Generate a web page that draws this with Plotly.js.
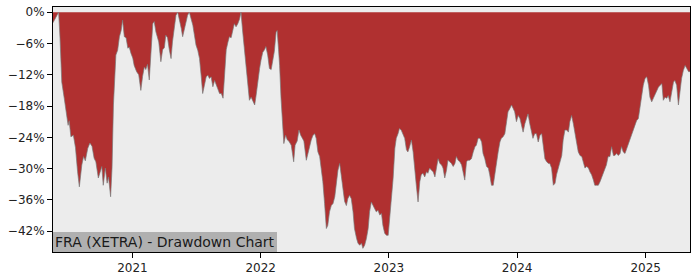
<!DOCTYPE html>
<html>
<head>
<meta charset="utf-8">
<script src="https://cdn.plot.ly/plotly-3.0.1.min.js"></script>
<style>html,body{margin:0;padding:0;background:#fff;}#chart{width:700px;height:280px;}</style>
</head>
<body>
<div id="chart"></div>
<script>
const dates = [
"2020-05-20","2020-05-24","2020-05-28","2020-06-02","2020-06-05","2020-06-09","2020-06-14","2020-06-21","2020-06-28","2020-07-02",
"2020-07-05","2020-07-10","2020-07-17","2020-07-23","2020-07-29","2020-08-03","2020-08-10","2020-08-15","2020-08-20","2020-08-27",
"2020-09-02","2020-09-08","2020-09-14","2020-09-19","2020-09-26","2020-10-02","2020-10-06","2020-10-10","2020-10-16","2020-10-21",
"2020-10-25","2020-10-31","2020-11-04","2020-11-08","2020-11-11","2020-11-15","2020-11-20","2020-11-25","2020-11-30","2020-12-04",
"2020-12-09","2020-12-14","2020-12-19","2020-12-23","2020-12-28","2021-01-02","2021-01-06","2021-01-13","2021-01-19","2021-01-25",
"2021-01-30","2021-02-04","2021-02-08","2021-02-13","2021-02-18","2021-02-23","2021-02-28","2021-03-04","2021-03-09","2021-03-17",
"2021-03-23","2021-03-28","2021-04-02","2021-04-06","2021-04-11","2021-04-16","2021-04-21","2021-04-25","2021-04-30","2021-05-05",
"2021-05-10","2021-05-15","2021-05-20","2021-05-24","2021-05-29","2021-06-03","2021-06-07","2021-06-12","2021-06-17","2021-06-22",
"2021-06-26","2021-07-01","2021-07-06","2021-07-11","2021-07-16","2021-07-20","2021-07-25","2021-07-30","2021-08-04","2021-08-08",
"2021-08-13","2021-08-18","2021-08-23","2021-08-27","2021-09-01","2021-09-06","2021-09-11","2021-09-16","2021-09-20","2021-09-25",
"2021-09-30","2021-10-04","2021-10-09","2021-10-14","2021-10-18","2021-10-23","2021-10-28","2021-11-02","2021-11-06","2021-11-11",
"2021-11-16","2021-11-21","2021-11-25","2021-11-30","2021-12-05","2021-12-10","2021-12-15","2021-12-19","2021-12-24","2021-12-29",
"2022-01-02","2022-01-07","2022-01-12","2022-01-16","2022-01-21","2022-01-26","2022-01-31","2022-02-05","2022-02-09","2022-02-14",
"2022-02-17","2022-02-21","2022-02-24","2022-02-28","2022-03-05","2022-03-08","2022-03-13","2022-03-18","2022-03-22","2022-03-29",
"2022-04-05","2022-04-09","2022-04-15","2022-04-20","2022-04-25","2022-04-29","2022-05-04","2022-05-11","2022-05-16","2022-05-20",
"2022-05-25","2022-05-30","2022-06-04","2022-06-08","2022-06-13","2022-06-18","2022-06-23","2022-06-27","2022-07-02","2022-07-07",
"2022-07-11","2022-07-16","2022-07-21","2022-07-26","2022-07-31","2022-08-04","2022-08-09","2022-08-14","2022-08-19","2022-08-23",
"2022-08-28","2022-09-02","2022-09-06","2022-09-11","2022-09-16","2022-09-21","2022-09-25","2022-10-01","2022-10-05","2022-10-10",
"2022-10-15","2022-10-19","2022-10-24","2022-10-29","2022-11-03","2022-11-07","2022-11-12","2022-11-17","2022-11-21","2022-11-26",
"2022-12-01","2022-12-06","2022-12-11","2022-12-15","2022-12-20","2022-12-25","2022-12-30","2023-01-03","2023-01-08","2023-01-13",
"2023-01-18","2023-01-22","2023-01-27","2023-01-31","2023-02-05","2023-02-10","2023-02-15","2023-02-20","2023-02-24","2023-03-01",
"2023-03-06","2023-03-11","2023-03-16","2023-03-20","2023-03-25","2023-03-30","2023-04-03","2023-04-08","2023-04-13","2023-04-18",
"2023-04-22","2023-04-27","2023-05-02","2023-05-07","2023-05-12","2023-05-16","2023-05-21","2023-05-26","2023-05-31","2023-06-04",
"2023-06-09","2023-06-14","2023-06-18","2023-06-23","2023-06-28","2023-07-03","2023-07-08","2023-07-12","2023-07-17","2023-07-22",
"2023-07-27","2023-07-31","2023-08-05","2023-08-10","2023-08-14","2023-08-19","2023-08-24","2023-08-29","2023-09-03","2023-09-07",
"2023-09-12","2023-09-17","2023-09-22","2023-09-26","2023-10-01","2023-10-06","2023-10-11","2023-10-15","2023-10-20","2023-10-25",
"2023-10-30","2023-11-03","2023-11-08","2023-11-13","2023-11-17","2023-11-22","2023-11-27","2023-12-02","2023-12-06","2023-12-11",
"2023-12-16","2023-12-21","2023-12-25","2023-12-30","2024-01-04","2024-01-09","2024-01-13","2024-01-18","2024-01-23","2024-01-28",
"2024-02-01","2024-02-06","2024-02-11","2024-02-15","2024-02-20","2024-02-25","2024-03-01","2024-03-06","2024-03-11","2024-03-15",
"2024-03-20","2024-03-25","2024-03-30","2024-04-03","2024-04-08","2024-04-13","2024-04-18","2024-04-22","2024-04-27","2024-05-02",
"2024-05-07","2024-05-11","2024-05-16","2024-05-21","2024-05-26","2024-05-30","2024-06-04","2024-06-09","2024-06-13","2024-06-18",
"2024-06-23","2024-06-28","2024-07-03","2024-07-07","2024-07-12","2024-07-17","2024-07-22","2024-07-26","2024-07-31","2024-08-05",
"2024-08-09","2024-08-14","2024-08-19","2024-08-24","2024-08-28","2024-09-02","2024-09-07","2024-09-11","2024-09-16","2024-09-21",
"2024-09-26","2024-10-01","2024-10-05","2024-10-10","2024-10-15","2024-10-20","2024-10-24","2024-10-29","2024-11-03","2024-11-08",
"2024-11-12","2024-11-17","2024-11-22","2024-11-27","2024-12-02","2024-12-06","2024-12-11","2024-12-16","2024-12-21","2024-12-25",
"2024-12-30","2025-01-04","2025-01-09","2025-01-13","2025-01-18","2025-01-23","2025-01-28","2025-02-01","2025-02-06","2025-02-11",
"2025-02-16","2025-02-20","2025-02-25","2025-03-02","2025-03-06","2025-03-11","2025-03-16","2025-03-21","2025-03-25","2025-03-30",
"2025-04-04","2025-04-09","2025-04-13","2025-04-18","2025-04-23","2025-04-28","2025-05-03","2025-05-07"
];
const drawdown = [
-2.0,-1.5,-0.9,-0.4,0,-5,-13.4,-16.5,-20.3,-21.7,
-20.8,-23.9,-23.6,-26,-30.6,-33.5,-29.3,-27.7,-28.5,-26.1,
-25.1,-25.7,-28,-28.7,-31.8,-30.6,-29.6,-33.2,-29.9,-32.8,
-31.6,-35.4,-29.9,-17.8,-12.1,-8.2,-7.3,-4.7,-3.5,-1.5,
-4.7,-4.9,-6.9,-6.7,-7.9,-8.8,-10.2,-11.4,-12,-15,
-12.3,-10.5,-11,-10,-13,-7.3,-2.2,-1.8,-3.8,-5.7,
-9.5,-7.2,-6.8,-4.4,-4.9,-7.2,-8.9,-5.7,-2.8,-0.6,
0,-1.3,-3.1,-4.7,-3.1,-1.6,-0.6,0,-1.3,-2.5,
-4.2,-6.3,-7.3,-8.9,-12.4,-15.6,-14,-12.4,-12.1,-12.7,
-12.4,-14.3,-13.1,-13.7,-14.7,-15.6,-15.6,-16.5,-11.4,-7.2,
-5.7,-4.7,-4.9,-3.5,-2.2,-2.8,-2.2,-1.3,0,-3.8,
-7.2,-10.2,-12.7,-16.9,-16.3,-17.2,-17.8,-16,-12.7,-10.8,
-9.2,-7.7,-7.2,-6.6,-8.2,-10.8,-11,-9.2,-7.5,-3.8,
-3.5,-7.2,-10.2,-16.5,-23.6,-25.2,-23.6,-24.5,-24.7,-25.5,
-28.7,-25.5,-24.7,-22.6,-23.6,-24.2,-24.7,-28.4,-26.8,-26.1,
-24.5,-23.6,-23.3,-24.2,-26.8,-27.7,-30.3,-32.5,-36.7,-41.5,
-40.9,-38.3,-37.1,-36.7,-35.4,-32.5,-30.3,-29,-31.8,-34.1,
-36.3,-37.1,-35.8,-35.1,-35.8,-38.3,-41.5,-43.4,-44.3,-44.7,
-44.3,-45.3,-44.7,-43.4,-41.5,-38.3,-36.4,-37.1,-37.7,-38.3,
-38,-38.9,-38.6,-40.9,-42.4,-42.8,-42.8,-39.6,-35.7,-31.9,
-26.1,-24.2,-23.3,-22.3,-22.6,-23.6,-24.2,-26.4,-26.8,-25.8,
-24.5,-26.8,-31.2,-33.2,-36.4,-32.5,-31.2,-30.9,-31.6,-30.6,
-30.9,-29.9,-30.3,-30.6,-31.6,-29.9,-28.1,-29,-29.3,-29.9,
-31.8,-30.3,-28.4,-28.7,-29,-29.6,-29,-27.7,-28.4,-28.7,
-29.3,-30.6,-32.2,-28.7,-28.4,-28.4,-28.1,-26.8,-25.8,-25.5,
-24.2,-24.2,-24.9,-27.1,-28.1,-29.6,-29.9,-31.2,-33.2,-33.2,
-30.6,-28.7,-26.8,-24.9,-24.2,-23.9,-23.3,-21,-19.1,-18.5,
-17.8,-18.5,-19.1,-21,-19.8,-20.4,-21.7,-23,-21.4,-20.4,
-19.5,-21.4,-23,-24.2,-23.3,-23.3,-24.9,-23.6,-23.3,-25.2,
-28.1,-28.7,-29,-29,-29.9,-33.2,-32.8,-31.2,-29.9,-28.4,
-27.5,-24.5,-22.6,-22.6,-23,-21,-19.8,-21.4,-23.3,-24.9,
-26.8,-27.5,-27.7,-28.7,-29.9,-29.6,-29.9,-30.6,-31.2,-32.2,
-33.2,-33.2,-33.2,-32.5,-31.8,-30.9,-30.3,-29.3,-27.7,-27.7,
-25.8,-27.5,-27.5,-27.1,-27.5,-27.1,-25.8,-26.8,-27.1,-26.1,
-25.5,-24.5,-23.3,-22.3,-21.4,-20.8,-20.4,-18.1,-15.6,-14,
-12.7,-12.4,-14,-16.3,-17.2,-16.5,-15.6,-15.3,-14.4,-14,
-13.7,-16.9,-16.3,-16.5,-16,-17.2,-15.6,-13.4,-13.1,-14,
-17.8,-14.7,-12.7,-11.2,-10.2,-10.8,-11.4,-11.4
];
const yTickVals = [0,-6,-12,-18,-24,-30,-36,-42];
const yTickText = ["0%","\u22126%","\u221212%","\u221218%","\u221224%","\u221230%","\u221236%","\u221242%"];
const chartLabel = "FRA (XETRA) - Drawdown Chart";

const font = {family: "DejaVu Sans, sans-serif", size: 12, color: "#222"};
const trace = {
  x: dates, y: drawdown, type: "scatter", mode: "lines",
  fill: "tozeroy", fillcolor: "#b03030",
  line: {color: "rgba(120,120,120,0.85)", width: 0.8},
  hoverinfo: "skip"
};
const layout = {
  width: 700, height: 280,
  margin: {l: 53, r: 10, t: 7, b: 28, pad: 0},
  paper_bgcolor: "#ffffff", plot_bgcolor: "#ececec",
  showlegend: false,
  font: font,
  xaxis: {
    type: "date", range: [dates[0], dates[dates.length - 1]],
    showgrid: false, zeroline: false,
    showline: true, linecolor: "#000", linewidth: 1, mirror: true,
    ticks: "outside", ticklen: 5, tickcolor: "#000", tickwidth: 1,
    tick0: "2021-01-01", dtick: "M12", tickformat: "%Y",
    tickfont: font
  },
  yaxis: {
    range: [-46, 1],
    showgrid: false, zeroline: false,
    showline: true, linecolor: "#000", linewidth: 1, mirror: true,
    ticks: "outside", ticklen: 5, tickcolor: "#000", tickwidth: 1,
    tickmode: "array", tickvals: yTickVals, ticktext: yTickText,
    tickfont: font
  },
  annotations: [{
    text: chartLabel, xref: "paper", yref: "paper", x: 0, y: 0,
    xanchor: "left", yanchor: "bottom", showarrow: false,
    bgcolor: "#b0b0b0", borderpad: 2, borderwidth: 0,
    font: {family: "DejaVu Sans, sans-serif", size: 14, color: "#1a1a1a"}
  }]
};
Plotly.newPlot("chart", [trace], layout, {displayModeBar: false, staticPlot: true});
</script>
</body>
</html>
